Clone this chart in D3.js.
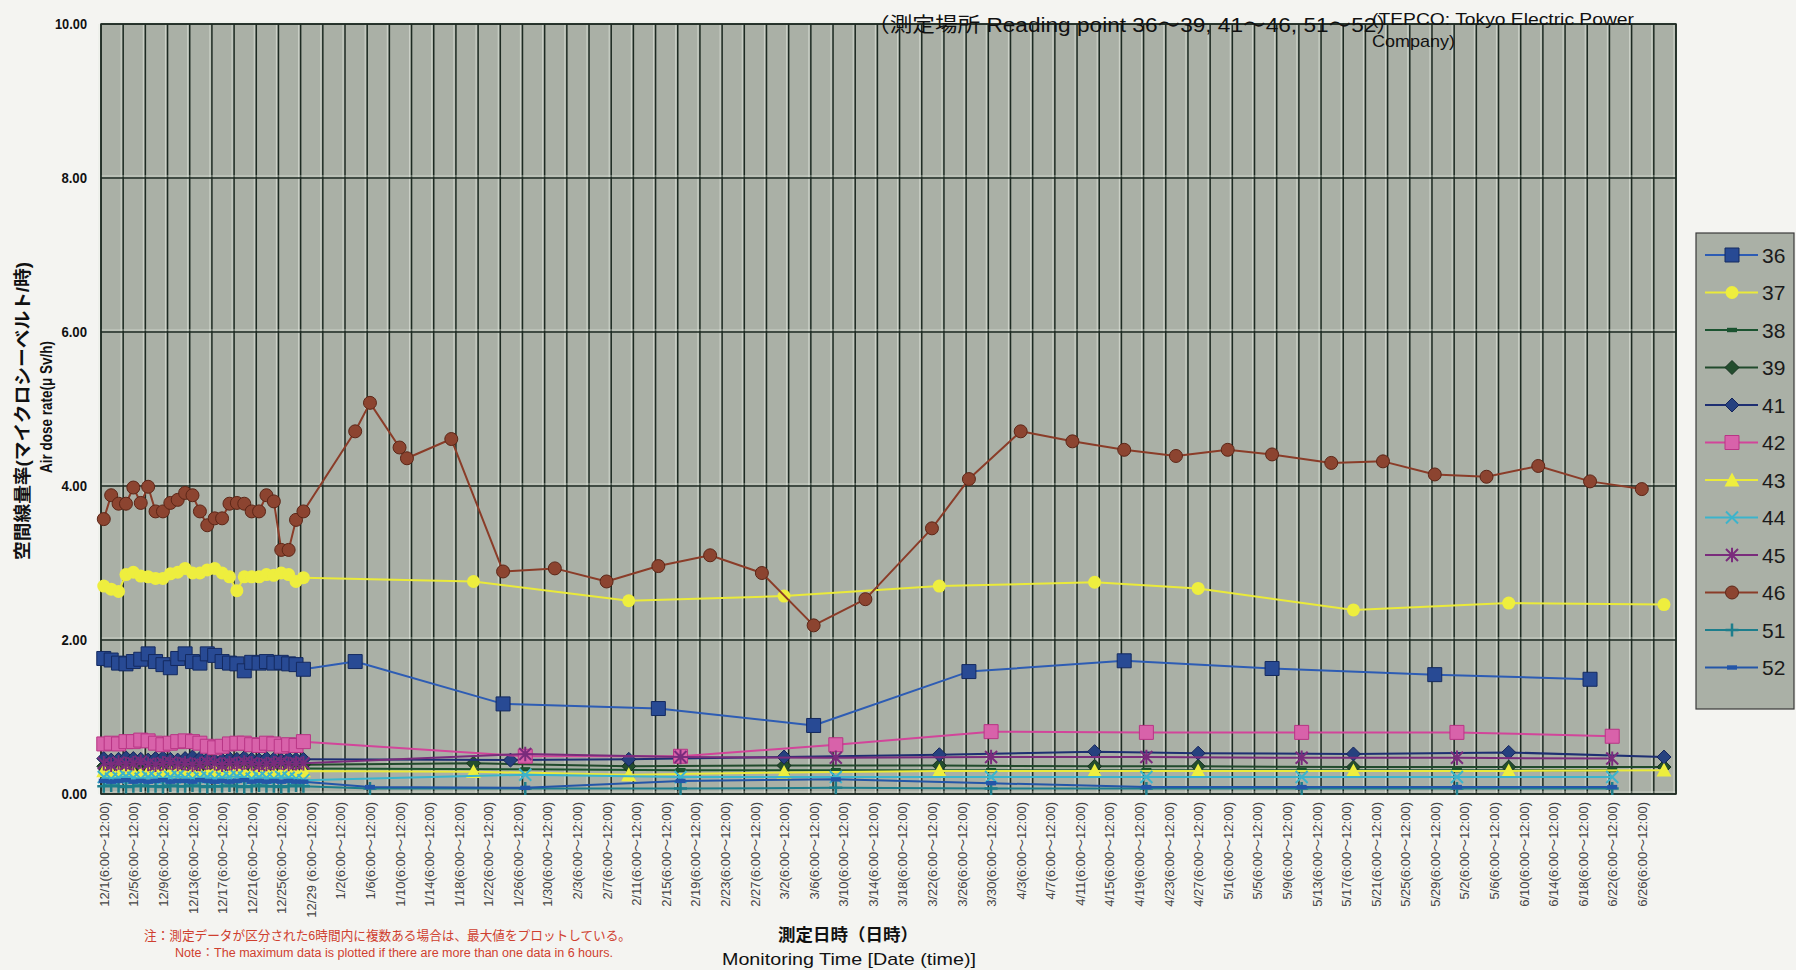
<!DOCTYPE html>
<html>
<head>
<meta charset="utf-8">
<script src="https://cdn.jsdelivr.net/npm/d3@7"></script>
<style>
  html, body { margin: 0; padding: 0; background: #f4f4f1; }
  svg { display: block; }
  text { font-family: "Liberation Sans", Arial, "Noto Sans CJK JP", sans-serif; }
</style>
</head>
<body>
<svg id="chart" width="1796" height="970"></svg>
<script>
// ---- Category axis: 6-hour slots, labelled every 4 days ----
const xTickLabels = [
  "12/1(6:00～12:00)", "12/5(6:00～12:00)", "12/9(6:00～12:00)", "12/13(6:00～12:00)",
  "12/17(6:00～12:00)", "12/21(6:00～12:00)", "12/25(6:00～12:00)", "12/29 (6:00～12:00)",
  "1/2(6:00～12:00)", "1/6(6:00～12:00)", "1/10(6:00～12:00)", "1/14(6:00～12:00)",
  "1/18(6:00～12:00)", "1/22(6:00～12:00)", "1/26(6:00～12:00)", "1/30(6:00～12:00)",
  "2/3(6:00～12:00)", "2/7(6:00～12:00)", "2/11(6:00～12:00)", "2/15(6:00～12:00)",
  "2/19(6:00～12:00)", "2/23(6:00～12:00)", "2/27(6:00～12:00)", "3/2(6:00～12:00)",
  "3/6(6:00～12:00)", "3/10(6:00～12:00)", "3/14(6:00～12:00)", "3/18(6:00～12:00)",
  "3/22(6:00～12:00)", "3/26(6:00～12:00)", "3/30(6:00～12:00)", "4/3(6:00～12:00)",
  "4/7(6:00～12:00)", "4/11(6:00～12:00)", "4/15(6:00～12:00)", "4/19(6:00～12:00)",
  "4/23(6:00～12:00)", "4/27(6:00～12:00)", "5/1(6:00～12:00)", "5/5(6:00～12:00)",
  "5/9(6:00～12:00)", "5/13(6:00～12:00)", "5/17(6:00～12:00)", "5/21(6:00～12:00)",
  "5/25(6:00～12:00)", "5/29(6:00～12:00)", "5/2(6:00～12:00)", "5/6(6:00～12:00)",
  "6/10(6:00～12:00)", "6/14(6:00～12:00)", "6/18(6:00～12:00)", "6/22(6:00～12:00)",
  "6/26(6:00～12:00)"
];
const yTicks = [0, 2, 4, 6, 8, 10];

// ---- Daily readings, 1–28 Dec ----
const denseDates = [
  "2011-12-01","2011-12-02","2011-12-03","2011-12-04","2011-12-05","2011-12-06","2011-12-07",
  "2011-12-08","2011-12-09","2011-12-10","2011-12-11","2011-12-12","2011-12-13","2011-12-14",
  "2011-12-15","2011-12-16","2011-12-17","2011-12-18","2011-12-19","2011-12-20","2011-12-21",
  "2011-12-22","2011-12-23","2011-12-24","2011-12-25","2011-12-26","2011-12-27","2011-12-28"
];
const dense36 = [1.76,1.74,1.70,1.69,1.72,1.75,1.82,1.72,1.68,1.64,1.76,1.82,1.72,1.70,1.82,1.80,1.72,1.70,1.69,1.60,1.71,1.70,1.72,1.70,1.71,1.69,1.68,1.62];
const dense37 = [2.70,2.66,2.63,2.85,2.88,2.83,2.82,2.80,2.80,2.86,2.88,2.93,2.87,2.87,2.91,2.93,2.87,2.82,2.64,2.82,2.82,2.82,2.85,2.84,2.87,2.85,2.76,2.81];
const dense38 = [0.33,0.32,0.33,0.34,0.33,0.32,0.33,0.33,0.34,0.32,0.33,0.33,0.32,0.34,0.33,0.33,0.32,0.33,0.34,0.33,0.32,0.33,0.33,0.34,0.33,0.32,0.33,0.33];
const dense39 = [0.36,0.35,0.37,0.36,0.35,0.36,0.37,0.35,0.36,0.36,0.35,0.37,0.36,0.35,0.36,0.37,0.36,0.35,0.36,0.37,0.36,0.35,0.36,0.36,0.37,0.35,0.36,0.38];
const dense41 = [0.46,0.44,0.45,0.47,0.46,0.45,0.44,0.46,0.47,0.45,0.44,0.46,0.48,0.46,0.45,0.43,0.44,0.46,0.45,0.47,0.45,0.44,0.46,0.45,0.44,0.46,0.45,0.45];
const dense42 = [0.65,0.66,0.65,0.68,0.68,0.70,0.69,0.66,0.64,0.66,0.68,0.69,0.68,0.66,0.62,0.60,0.62,0.65,0.66,0.66,0.64,0.63,0.66,0.65,0.62,0.64,0.63,0.68];
const dense43 = [0.30,0.28,0.29,0.30,0.28,0.27,0.29,0.30,0.28,0.29,0.30,0.28,0.29,0.27,0.29,0.30,0.28,0.29,0.33,0.29,0.28,0.30,0.29,0.28,0.29,0.30,0.28,0.30];
const dense44 = [0.22,0.20,0.21,0.23,0.21,0.20,0.22,0.21,0.20,0.22,0.23,0.21,0.20,0.21,0.22,0.20,0.21,0.22,0.23,0.21,0.20,0.22,0.21,0.20,0.22,0.21,0.20,0.18];
const dense45 = [0.40,0.38,0.41,0.39,0.40,0.42,0.39,0.38,0.40,0.41,0.39,0.40,0.38,0.39,0.41,0.40,0.38,0.40,0.39,0.41,0.40,0.38,0.39,0.40,0.41,0.39,0.40,0.40];
const dense46 = [3.57,3.88,3.77,3.77,3.98,3.78,3.99,3.67,3.67,3.78,3.82,3.91,3.88,3.67,3.49,3.58,3.58,3.77,3.78,3.77,3.67,3.67,3.88,3.80,3.17,3.17,3.56,3.67];
const dense51 = [0.10,0.11,0.10,0.09,0.10,0.11,0.10,0.10,0.09,0.11,0.10,0.10,0.11,0.10,0.09,0.10,0.10,0.11,0.10,0.09,0.10,0.11,0.10,0.10,0.09,0.10,0.11,0.10];
const dense52 = [0.17,0.16,0.17,0.18,0.16,0.17,0.16,0.17,0.18,0.16,0.17,0.17,0.16,0.18,0.17,0.16,0.17,0.16,0.17,0.18,0.16,0.17,0.16,0.17,0.16,0.17,0.16,0.16];

// ---- Later readings (Jan–Jun 2012) ----
const later36Dates = ["2012-01-04","2012-01-24","2012-02-14","2012-03-06","2012-03-27","2012-04-17","2012-05-07","2012-05-29","2012-06-19"];
const later36 = [1.72, 1.17, 1.11, 0.89, 1.59, 1.73, 1.63, 1.55, 1.49];

const later37Dates = ["2012-01-20","2012-02-10","2012-03-02","2012-03-23","2012-04-13","2012-04-27","2012-05-18","2012-06-08","2012-06-29"];
const later37 = [2.76, 2.51, 2.57, 2.70, 2.75, 2.67, 2.39, 2.48, 2.46];

const later39Dates = later37Dates;
const later39 = [0.40, 0.36, 0.37, 0.37, 0.36, 0.36, 0.35, 0.35, 0.35];

const later41Dates = ["2012-01-25","2012-02-10","2012-03-02","2012-03-23","2012-04-13","2012-04-27","2012-05-18","2012-06-08","2012-06-29"];
const later41 = [0.44, 0.45, 0.48, 0.51, 0.55, 0.53, 0.52, 0.54, 0.48];

const later43Dates = later37Dates;
const later43 = [0.29, 0.25, 0.28, 0.30, 0.30, 0.30, 0.30, 0.30, 0.31];

const later42Dates = ["2012-01-27","2012-02-17","2012-03-09","2012-03-30","2012-04-20","2012-05-11","2012-06-01","2012-06-22"];
const later42 = [0.49, 0.49, 0.64, 0.81, 0.80, 0.80, 0.80, 0.75];

const later38Dates = later42Dates;
const later38 = [0.32, 0.31, 0.31, 0.31, 0.31, 0.31, 0.31, 0.31];

const later44Dates = later42Dates;
const later44 = [0.25, 0.22, 0.22, 0.22, 0.22, 0.22, 0.22, 0.22];

const later45Dates = later42Dates;
const later45 = [0.52, 0.48, 0.47, 0.48, 0.48, 0.47, 0.47, 0.46];

const later46Dates = ["2012-01-04","2012-01-06","2012-01-10","2012-01-11","2012-01-17","2012-01-24","2012-01-31","2012-02-07",
  "2012-02-14","2012-02-21","2012-02-28","2012-03-06","2012-03-13","2012-03-22","2012-03-27","2012-04-03","2012-04-10",
  "2012-04-17","2012-04-24","2012-05-01","2012-05-07","2012-05-15","2012-05-22","2012-05-29","2012-06-05","2012-06-12",
  "2012-06-19","2012-06-26"];
const later46 = [4.71, 5.08, 4.50, 4.36, 4.61, 2.89, 2.93, 2.76, 2.96, 3.10, 2.87, 2.19, 2.53, 3.45, 4.09, 4.71, 4.58,
  4.47, 4.39, 4.47, 4.41, 4.30, 4.32, 4.15, 4.12, 4.26, 4.06, 3.96];

const later51Dates = ["2012-01-06"].concat(later42Dates);
const later51 = [0.07, 0.07, 0.07, 0.08, 0.07, 0.07, 0.07, 0.07, 0.07];

const later52Dates = later51Dates;
const later52 = [0.09, 0.08, 0.17, 0.19, 0.14, 0.09, 0.09, 0.09, 0.09];

// ---- Layout ----
const W = 1796, H = 970;
const plot = { left: 101, right: 1676, top: 24, bottom: 794 };
const plotFill = "#aab0a6";
const gridColor = "#1d2a22";

const parseDay = d3.timeParse("%Y-%m-%d");
const slotTime = s => d3.timeHour.offset(parseDay(s), 9);   // middle of the 6:00–12:00 slot
const axisStart = parseDay("2011-12-01");
const axisEnd = parseDay("2012-07-01");

const x = d3.scaleTime().domain([axisStart, axisEnd]).range([plot.left, plot.right]);
const y = d3.scaleLinear().domain([0, 10]).range([plot.bottom, plot.top]);

const svg = d3.select("#chart");

// plot background
svg.append("rect")
  .attr("x", plot.left).attr("y", plot.top)
  .attr("width", plot.right - plot.left).attr("height", plot.bottom - plot.top)
  .attr("fill", plotFill);

// vertical grid: one line every 3 days
const gridDays = d3.timeDay.range(axisStart, d3.timeDay.offset(axisEnd, 1)).filter((d, i) => i % 3 === 0);
const grid = svg.append("g");
grid.selectAll("line.vlight").data(gridDays).join("line")
  .attr("x1", d => x(d) - 2).attr("x2", d => x(d) - 2)
  .attr("y1", plot.top).attr("y2", plot.bottom)
  .attr("stroke", "#e6ebe2").attr("stroke-opacity", 0.55).attr("stroke-width", 1.2);
grid.selectAll("line.v").data(gridDays).join("line")
  .attr("x1", d => x(d)).attr("x2", d => x(d))
  .attr("y1", plot.top).attr("y2", plot.bottom)
  .attr("stroke", gridColor).attr("stroke-width", 1.5);

// horizontal grid
grid.selectAll("line.hlight").data(yTicks).join("line")
  .attr("x1", plot.left).attr("x2", plot.right)
  .attr("y1", d => y(d) - 2).attr("y2", d => y(d) - 2)
  .attr("stroke", "#e6ebe2").attr("stroke-opacity", 0.55).attr("stroke-width", 1.2);
grid.selectAll("line.h").data(yTicks).join("line")
  .attr("x1", plot.left).attr("x2", plot.right)
  .attr("y1", d => y(d)).attr("y2", d => y(d))
  .attr("stroke", gridColor).attr("stroke-width", 1.5);

svg.append("rect")
  .attr("x", plot.left).attr("y", plot.top)
  .attr("width", plot.right - plot.left).attr("height", plot.bottom - plot.top)
  .attr("fill", "none").attr("stroke", gridColor).attr("stroke-width", 1.5);

// ---- Axes ----
const yAxis = svg.append("g")
  .attr("transform", `translate(${plot.left},0)`)
  .call(d3.axisLeft(y).tickValues(yTicks).tickFormat(d3.format(".2f")).tickSize(0).tickPadding(14));
yAxis.select(".domain").remove();
yAxis.selectAll("text").attr("font-size", 15).attr("fill", "#111")
  .style("font-family", "'Liberation Sans',Arial,sans-serif")
  .attr("font-weight", "bold")
  .attr("textLength", function () { return this.textContent.length * 6.4; })
  .attr("lengthAdjust", "spacingAndGlyphs");

const labelDates = xTickLabels.map((_, i) => d3.timeHour.offset(d3.timeDay.offset(axisStart, 4 * i), 9));
const xAxis = svg.append("g")
  .attr("transform", `translate(0,${plot.bottom})`)
  .call(d3.axisBottom(x).tickValues(labelDates).tickFormat((d, i) => xTickLabels[i]).tickSize(0));
xAxis.select(".domain").remove();
xAxis.selectAll("text")
  .attr("transform", "rotate(-90)")
  .attr("x", -8).attr("y", 0).attr("dy", "0.35em")
  .style("text-anchor", "end")
  .attr("font-size", 13).attr("fill", "#444");

// ---- Markers ----
function markerPath(type, s) {
  switch (type) {
    case "square": return `M${-s},${-s}h${2*s}v${2*s}h${-2*s}Z`;
    case "diamond": return `M0,${-s}L${s},0L0,${s}L${-s},0Z`;
    case "triangle": return `M0,${-s}L${s},${s*0.85}L${-s},${s*0.85}Z`;
    case "circle": return `M${s},0A${s},${s} 0 1,1 ${-s},0A${s},${s} 0 1,1 ${s},0Z`;
    case "dash": return `M${-s},-2.2h${2*s}v4.4h${-2*s}Z`;
    case "x": return `M${-s},${-s}L${s},${s}M${-s},${s}L${s},${-s}`;
    case "asterisk": return `M${-s},${-s}L${s},${s}M${-s},${s}L${s},${-s}M0,${-s*1.2}V${s*1.2}`;
    case "plus": return `M${-s},0H${s}M0,${-s}V${s}`;
  }
}

const seriesList = [
  { name: "36", dates: denseDates.concat(later36Dates), values: dense36.concat(later36),
    line: "#2d5cb4", shape: "square", size: 7, fill: "#284a94", stroke: "#142a60", sw: 1 },
  { name: "37", dates: denseDates.concat(later37Dates), values: dense37.concat(later37),
    line: "#eaea3a", shape: "circle", size: 6.5, fill: "#eeee3e", stroke: "none", sw: 0 },
  { name: "38", dates: denseDates.concat(later38Dates), values: dense38.concat(later38),
    line: "#1b5330", shape: "dash", size: 5, fill: "#1b5330", stroke: "none", sw: 0 },
  { name: "39", dates: denseDates.concat(later39Dates), values: dense39.concat(later39),
    line: "#214a2c", shape: "diamond", size: 7, fill: "#234d2e", stroke: "#163220", sw: 1 },
  { name: "41", dates: denseDates.concat(later41Dates), values: dense41.concat(later41),
    line: "#1e2f72", shape: "diamond", size: 7, fill: "#26417f", stroke: "#15245a", sw: 1 },
  { name: "42", dates: denseDates.concat(later42Dates), values: dense42.concat(later42),
    line: "#d2459a", shape: "square", size: 7, fill: "#d862aa", stroke: "#b83585", sw: 1 },
  { name: "43", dates: denseDates.concat(later43Dates), values: dense43.concat(later43),
    line: "#eaea3a", shape: "triangle", size: 7.5, fill: "#eeee3e", stroke: "none", sw: 0 },
  { name: "44", dates: denseDates.concat(later44Dates), values: dense44.concat(later44),
    line: "#3cb4cc", shape: "x", size: 6, fill: "none", stroke: "#3cb4cc", sw: 2 },
  { name: "45", dates: denseDates.concat(later45Dates), values: dense45.concat(later45),
    line: "#7a2c7c", shape: "asterisk", size: 6, fill: "none", stroke: "#7a2c7c", sw: 2 },
  { name: "46", dates: denseDates.concat(later46Dates), values: dense46.concat(later46),
    line: "#8a3c28", shape: "circle", size: 6.5, fill: "#8c4430", stroke: "#5c2617", sw: 1 },
  { name: "51", dates: denseDates.concat(later51Dates), values: dense51.concat(later51),
    line: "#1d7e8c", shape: "plus", size: 6.5, fill: "none", stroke: "#1d7e8c", sw: 2.5 },
  { name: "52", dates: denseDates.concat(later52Dates), values: dense52.concat(later52),
    line: "#2456a8", shape: "dash", size: 5, fill: "#2456a8", stroke: "none", sw: 0 }
];

const lineGen = d3.line().x(d => x(d.t)).y(d => y(d.v));
const marks = svg.append("g");
seriesList.forEach(s => {
  const pts = s.dates.map((d, i) => ({ t: slotTime(d), v: s.values[i] }));
  const g = marks.append("g");
  g.append("path").datum(pts).attr("d", lineGen)
    .attr("fill", "none").attr("stroke", s.line).attr("stroke-width", 2)
    .attr("stroke-linejoin", "round");
  g.selectAll("path.m").data(pts).join("path")
    .attr("class", "m")
    .attr("transform", d => `translate(${x(d.t)},${y(d.v)})`)
    .attr("d", markerPath(s.shape, s.size))
    .attr("fill", s.fill).attr("stroke", s.stroke).attr("stroke-width", s.sw);
});

// ---- Legend ----
const legend = svg.append("g").attr("transform", "translate(1696,233)");
legend.append("rect").attr("width", 98).attr("height", 476)
  .attr("fill", plotFill).attr("stroke", "#3a3a3a").attr("stroke-width", 1.2);
const item = legend.selectAll("g.item").data(seriesList).join("g")
  .attr("transform", (d, i) => `translate(0,${22 + i * 37.5})`);
item.append("line").attr("x1", 9).attr("x2", 62).attr("y1", 0).attr("y2", 0)
  .attr("stroke", d => d.line).attr("stroke-width", 2);
item.append("path").attr("transform", "translate(36,0)")
  .attr("d", d => markerPath(d.shape, d.size))
  .attr("fill", d => d.fill).attr("stroke", d => d.stroke).attr("stroke-width", d => d.sw);
item.append("text").attr("x", 66).attr("y", 0).attr("dy", "0.36em")
  .attr("font-size", 21).attr("fill", "#1a1a1a").text(d => d.name);

// ---- Titles and notes ----
svg.append("text").attr("x", 867).attr("y", 25).attr("dy", "0.36em")
  .attr("font-size", 20).attr("fill", "#111")
  .attr("textLength", 532).attr("lengthAdjust", "spacingAndGlyphs")
  .text("（測定場所 Reading point 36～39, 41～46, 51～52）");
svg.append("text").attr("x", 1372).attr("y", 19).attr("dy", "0.36em")
  .attr("font-size", 17).attr("fill", "#111")
  .attr("textLength", 262).attr("lengthAdjust", "spacingAndGlyphs")
  .text("(TEPCO: Tokyo Electric Power");
svg.append("text").attr("x", 1372).attr("y", 41).attr("dy", "0.36em")
  .attr("font-size", 17).attr("fill", "#111")
  .attr("textLength", 83).attr("lengthAdjust", "spacingAndGlyphs")
  .text("Company)");

svg.append("text").attr("transform", "translate(23,411) rotate(-90)")
  .attr("text-anchor", "middle").attr("dy", "0.36em")
  .attr("font-size", 18).attr("font-weight", "bold").attr("fill", "#111")
  .attr("textLength", 298).attr("lengthAdjust", "spacingAndGlyphs")
  .text("空間線量率(マイクロシーベルト/時)");
svg.append("text").attr("transform", "translate(46,407) rotate(-90)")
  .attr("text-anchor", "middle").attr("dy", "0.36em")
  .attr("font-size", 17).attr("font-weight", "bold").attr("fill", "#111")
  .attr("textLength", 132).attr("lengthAdjust", "spacingAndGlyphs")
  .text("Air dose rate(μ Sv/h)");

svg.append("text").attr("x", 848).attr("y", 935).attr("dy", "0.36em")
  .attr("text-anchor", "middle").attr("font-size", 17).attr("font-weight", "bold").attr("fill", "#111")
  .attr("textLength", 140).attr("lengthAdjust", "spacingAndGlyphs")
  .text("測定日時（日時）");
svg.append("text").attr("x", 849).attr("y", 959).attr("dy", "0.36em")
  .attr("text-anchor", "middle").attr("font-size", 17).attr("fill", "#111")
  .attr("textLength", 254).attr("lengthAdjust", "spacingAndGlyphs")
  .text("Monitoring Time [Date (time)]");

svg.append("text").attr("x", 144).attr("y", 935).attr("dy", "0.36em")
  .attr("font-size", 13).attr("fill", "#cf3f2f")
  .attr("textLength", 487).attr("lengthAdjust", "spacingAndGlyphs")
  .text("注：測定データが区分された6時間内に複数ある場合は、最大値をプロットしている。");
svg.append("text").attr("x", 175).attr("y", 953).attr("dy", "0.36em")
  .attr("font-size", 12).attr("fill", "#cf3f2f")
  .attr("textLength", 438).attr("lengthAdjust", "spacingAndGlyphs")
  .text("Note：The maximum data is plotted if there are more than one data in 6 hours.");
</script>
</body>
</html>
